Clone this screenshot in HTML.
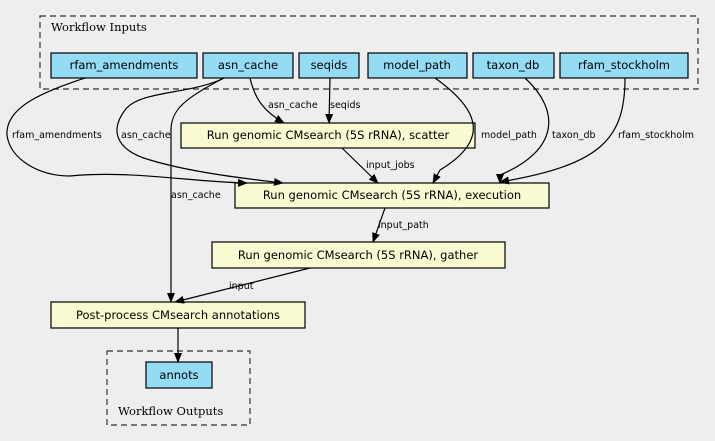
<!DOCTYPE html>
<html><head><style>
html,body{margin:0;padding:0;background:#eeeeee;}
svg{display:block;}
.n{font-family:"DejaVu Sans",sans-serif;font-size:11.5px;fill:#000;}
.l{font-family:"DejaVu Sans",sans-serif;font-size:9.5px;fill:#000;}
.t{font-family:"DejaVu Serif",serif;font-size:11.5px;fill:#000;}
.e{fill:none;stroke:#000;stroke-width:1.2;}
</style></head><body>
<svg width="715" height="441" viewBox="0 0 715 441" xmlns="http://www.w3.org/2000/svg">
<defs><marker id="a" markerWidth="10" markerHeight="8" refX="9" refY="4" orient="auto" markerUnits="userSpaceOnUse"><path d="M0,0 L10,4 L0,8 z" fill="#000"/></marker></defs>
<rect x="40" y="16" width="658" height="73" fill="none" stroke="#333" stroke-width="1.2" stroke-dasharray="6,4"/>
<text class="t" x="51" y="31">Workflow Inputs</text>
<rect x="107" y="351" width="143" height="74" fill="none" stroke="#333" stroke-width="1.2" stroke-dasharray="6,4"/>
<text class="t" x="118" y="415">Workflow Outputs</text>

<g fill="#94dbf4" stroke="#000" stroke-width="1.2">
<rect x="51" y="53" width="146" height="25"/>
<rect x="203" y="53" width="90" height="25"/>
<rect x="299" y="53" width="60" height="25"/>
<rect x="368" y="53" width="99" height="25"/>
<rect x="473" y="53" width="81" height="25"/>
<rect x="560" y="53" width="128" height="25"/>
<rect x="146" y="362" width="66" height="26"/>
</g>
<g fill="#fafad2" stroke="#000" stroke-width="1.2">
<rect x="181" y="123" width="294" height="25"/>
<rect x="235" y="183" width="314" height="25"/>
<rect x="212" y="242" width="293" height="26"/>
<rect x="51" y="302" width="254" height="26"/>
</g>
<g class="n" text-anchor="middle">
<text x="124" y="69">rfam_amendments</text>
<text x="248" y="69">asn_cache</text>
<text x="329" y="69">seqids</text>
<text x="417" y="69">model_path</text>
<text x="513" y="69">taxon_db</text>
<text x="624" y="69">rfam_stockholm</text>
<text x="179" y="379">annots</text>
<text x="328" y="139">Run genomic CMsearch (5S rRNA), scatter</text>
<text x="392" y="199">Run genomic CMsearch (5S rRNA), execution</text>
<text x="358" y="259">Run genomic CMsearch (5S rRNA), gather</text>
<text x="178" y="319">Post-process CMsearch annotations</text>
</g>
<g class="e" marker-end="url(#a)">
<path d="M85,78 C50,90 5,105 7,135 C10,160 40,176 70,176 C130,170 190,182 247,183"/>
<path d="M224,78 C190,95 140,90 125,110 C110,130 115,150 150,160 C190,172 240,178 283,183"/>
<path d="M250,78 C255,100 265,112 284,123"/>
<path d="M330,78 L329,123"/>
<path d="M224,78 C185,98 171,110 171,130 L171,302"/>
<path d="M435,78 C480,110 490,140 440,170 L433,183"/>
<path d="M525,78 C560,110 560,150 500,175 L500,183"/>
<path d="M625,78 C625,140 600,165 500,182"/>
<path d="M342,148 L378,183"/>
<path d="M385,208 L373,242"/>
<path d="M310,268 L175,302"/>
<path d="M178,328 L178,362"/>
</g>
<g class="l">
<text x="12" y="138">rfam_amendments</text>
<text x="121" y="138">asn_cache</text>
<text x="268" y="108">asn_cache</text>
<text x="330" y="108">seqids</text>
<text x="481" y="138">model_path</text>
<text x="552" y="138">taxon_db</text>
<text x="618" y="138">rfam_stockholm</text>
<text x="171" y="198">asn_cache</text>
<text x="366" y="168">input_jobs</text>
<text x="378" y="228">input_path</text>
<text x="229" y="289">input</text>
</g>
</svg>
</body></html>
